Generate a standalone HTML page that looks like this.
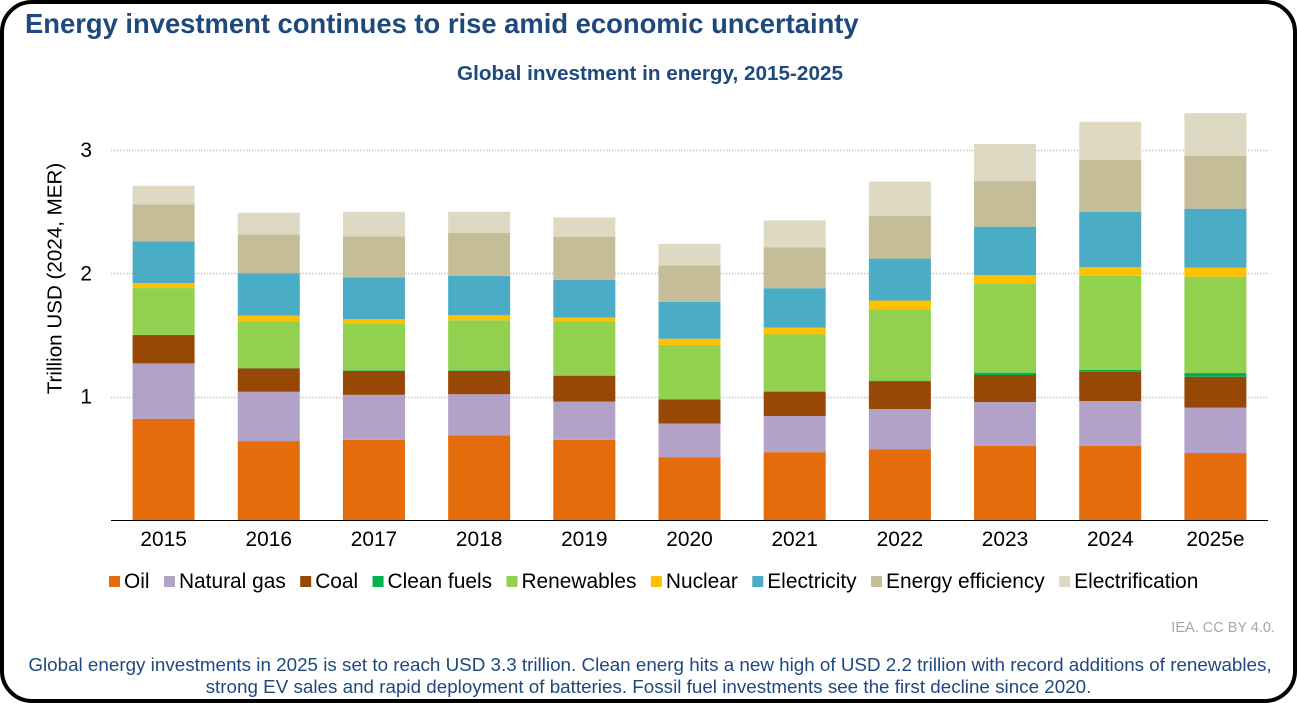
<!DOCTYPE html>
<html lang="en">
<head>
<meta charset="utf-8">
<title>Energy investment continues to rise amid economic uncertainty</title>
<style>
  html, body { margin: 0; padding: 0; background: #fff; }
  body { width: 1297px; height: 703px; overflow: hidden; }
  svg { display: block; font-family: "Liberation Sans", Arial, sans-serif; }
</style>
</head>
<body>
<svg id="chart" xmlns="http://www.w3.org/2000/svg" width="1297" height="703" viewBox="0 0 1297 703">
  <rect x="2" y="2" width="1293" height="699" rx="30" ry="30" fill="#fff" stroke="#000" stroke-width="4"/>
  <text x="25" y="33" font-size="27.38" font-weight="700" fill="#1F497D">Energy investment continues to rise amid economic uncertainty</text>
  <text x="650" y="80" text-anchor="middle" font-size="20.7" font-weight="700" fill="#1F497D">Global investment in energy, 2015-2025</text>
  <text transform="translate(61.5 278.5) rotate(-90)" text-anchor="middle" font-size="20.6" fill="#000">Trillion USD (2024, MER)</text>
  <g id="grid"></g>
  <g id="bars"></g>
  <line x1="111" y1="520.5" x2="1268" y2="520.5" stroke="#000" stroke-width="1"/>
  <g id="xlabels"></g>
  <g id="legend"></g>
  <text x="1275" y="632" text-anchor="end" font-size="14.5" fill="#A6A6A6">IEA. CC BY 4.0.</text>
  <text x="650" y="671" text-anchor="middle" font-size="18.82" fill="#1F497D">Global energy investments in 2025 is set to reach USD 3.3 trillion. Clean energ hits a new high of USD 2.2 trillion with record additions of renewables,</text>
  <text x="648.5" y="693" text-anchor="middle" font-size="18.82" fill="#1F497D">strong EV sales and rapid deployment of batteries. Fossil fuel investments see the first decline since 2020.</text>
</svg>
<script>
const categories = ['2015','2016','2017','2018','2019','2020','2021','2022','2023','2024','2025e'];
const yTicks = [1, 2, 3];
const seriesNames = ['Oil','Natural gas','Coal','Clean fuels','Renewables','Nuclear','Electricity','Energy efficiency','Electrification'];
const seriesColors = ['#E46C0A','#B3A2C7','#974806','#00B050','#92D050','#FFC000','#4BACC6','#C4BD97','#DDD9C3'];
const oil = [0.82,0.64,0.65,0.685,0.65,0.51,0.55,0.575,0.60,0.60,0.543];
const naturalGas = [0.45,0.40,0.365,0.335,0.31,0.273,0.293,0.325,0.357,0.365,0.368];
const coal = [0.23,0.19,0.195,0.19,0.21,0.194,0.197,0.223,0.219,0.238,0.251];
const cleanFuels = [0.001,0.002,0.005,0.005,0.003,0.003,0.005,0.007,0.019,0.016,0.03];
const renewables = [0.38,0.38,0.375,0.405,0.44,0.44,0.46,0.58,0.722,0.762,0.781];
const nuclear = [0.04,0.045,0.04,0.04,0.03,0.05,0.055,0.07,0.07,0.071,0.073];
const electricity = [0.34,0.345,0.337,0.32,0.305,0.30,0.32,0.34,0.392,0.448,0.479];
const efficiency = [0.30,0.315,0.333,0.35,0.35,0.295,0.33,0.345,0.37,0.42,0.43];
const electrification = [0.15,0.175,0.2,0.17,0.155,0.175,0.22,0.28,0.301,0.31,0.345];
const seriesValues = [oil, naturalGas, coal, cleanFuels, renewables, nuclear, electricity, efficiency, electrification];

const NS = 'http://www.w3.org/2000/svg';
const plot = { left: 111, right: 1268, bottom: 520, unit: 123.3, barWidth: 62 };
const yScale = v => plot.bottom - v * plot.unit;
const band = (plot.right - plot.left) / categories.length;
const xCenter = i => plot.left + band * (i + 0.5);
const slug = s => s.toLowerCase().replace(/\s+/g, '-');

function make(tag, attrs, parent) {
  const el = document.createElementNS(NS, tag);
  Object.keys(attrs).forEach(k => el.setAttribute(k, attrs[k]));
  parent.appendChild(el);
  return el;
}

const gridG = document.getElementById('grid');
yTicks.forEach(t => {
  const y = Math.round(yScale(t)) + 0.5;
  const line = make('line', { x1: plot.left, x2: plot.right, y1: y, y2: y, stroke: '#C8C8C8', 'stroke-width': 1.5, 'stroke-dasharray': '1.5 1.5' }, gridG);
  
  
  const label = make('text', { x: 92, y: yScale(t) + 7, 'text-anchor': 'end', 'font-size': 20.9, fill: '#000' }, gridG);
  label.textContent = String(t);
  
  
});

const barsG = document.getElementById('bars');
categories.forEach((cat, i) => {
  let cum = 0;
  seriesValues.forEach((vals, s) => {
    const v = vals[i];
    const top = yScale(cum + v);
    const h = v * plot.unit;
    const seg = make('rect', { x: xCenter(i) - plot.barWidth / 2, y: top, width: plot.barWidth, height: h, fill: seriesColors[s] }, barsG);
    
    
    cum += v;
  });
});

const xG = document.getElementById('xlabels');
categories.forEach((cat, i) => {
  const label = make('text', { x: xCenter(i), y: 546, 'text-anchor': 'middle', 'font-size': 20.9, fill: '#000' }, xG);
  label.textContent = cat;
  
  
});

const legendG = document.getElementById('legend');
let legendX = 109;
seriesNames.forEach((name, s) => {
  const swatch = make('rect', { x: legendX, y: 576, width: 11, height: 11, fill: seriesColors[s] }, legendG);
  
  
  const label = make('text', { x: legendX + 15, y: 588, 'font-size': 20.9, fill: '#000' }, legendG);
  label.textContent = name;
  
  
  legendX += 15 + label.getComputedTextLength() + 14.4;
});
</script>
</body>
</html>
